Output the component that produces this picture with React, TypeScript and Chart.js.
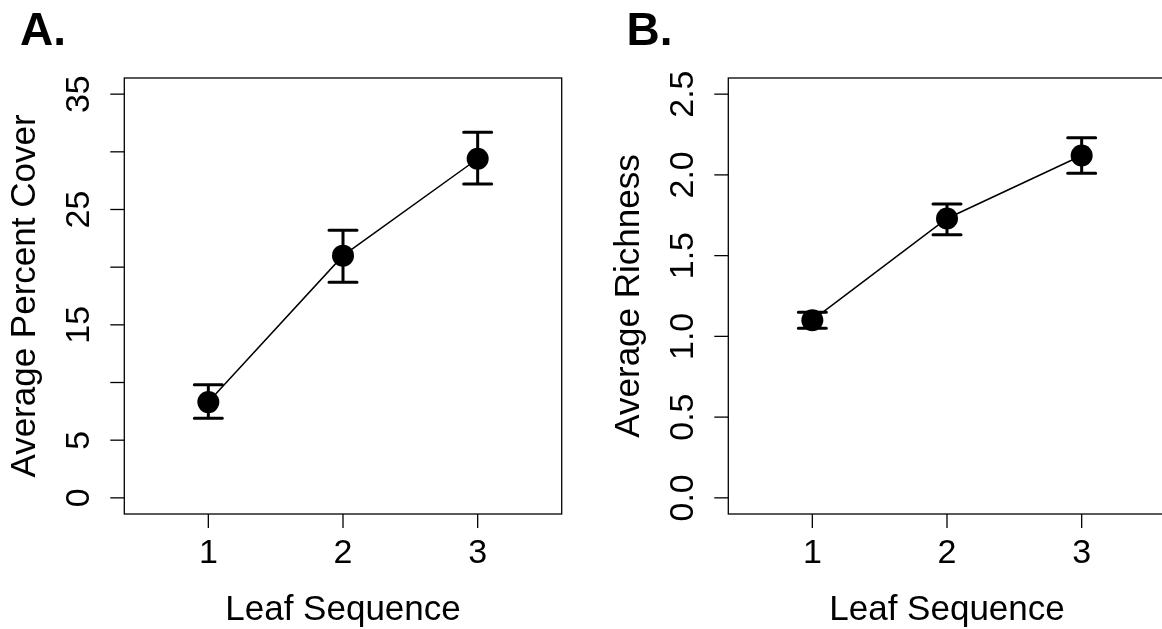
import React, { useEffect, useRef } from "react";
import { Chart, registerables } from "chart.js";

Chart.register(...registerables);

// ---- data ----
const leafSequence = [1, 2, 3];
const xTickLabels = ["1", "2", "3"];

const coverMean = [8.3, 21.0, 29.4];
const coverUpper = [9.8, 23.2, 31.7];
const coverLower = [6.9, 18.7, 27.2];
const coverTicks = [0, 5, 10, 15, 20, 25, 30, 35];
const coverTickLabels = ["0", "5", "", "15", "", "25", "", "35"];

const richMean = [1.1, 1.73, 2.12];
const richUpper = [1.15, 1.82, 2.23];
const richLower = [1.05, 1.63, 2.01];
const richTicks = [0, 0.5, 1.0, 1.5, 2.0, 2.5];
const richTickLabels = ["0.0", "0.5", "1.0", "1.5", "2.0", "2.5"];

const FONT = '"Liberation Sans", Arial, Helvetica, sans-serif';

type PanelSpec = {
  letter: string;
  letterX: number;
  yTitle: string;
  mean: number[];
  upper: number[];
  lower: number[];
  yTicks: number[];
  yTickLabels: string[];
  yMin: number;
  yMax: number;
  padding: { left: number; right: number; top: number; bottom: number };
};

function makeConfig(p: PanelSpec): any {
  const rPlugin = {
    id: "rstyle",
    beforeDatasetsDraw(chart: any) {
      const ctx = chart.ctx;
      const xs = chart.scales.x;
      const ys = chart.scales.y;
      ctx.save();
      ctx.strokeStyle = "#000";
      ctx.lineWidth = 3;
      ctx.lineCap = "round";
      leafSequence.forEach((c, i) => {
        const x = xs.getPixelForValue(c);
        const yu = ys.getPixelForValue(p.upper[i]);
        const yl = ys.getPixelForValue(p.lower[i]);
        ctx.beginPath();
        ctx.moveTo(x, yu);
        ctx.lineTo(x, yl);
        ctx.moveTo(x - 14, yu);
        ctx.lineTo(x + 14, yu);
        ctx.moveTo(x - 14, yl);
        ctx.lineTo(x + 14, yl);
        ctx.stroke();
      });
      ctx.restore();
    },
    afterDraw(chart: any) {
      const ctx = chart.ctx;
      const a = chart.chartArea;
      const xs = chart.scales.x;
      const ys = chart.scales.y;
      ctx.save();
      ctx.strokeStyle = "#000";
      ctx.fillStyle = "#000";
      ctx.lineWidth = 1.3;
      ctx.strokeRect(a.left, a.top, a.right - a.left, a.bottom - a.top);
      // x ticks
      ctx.font = `34px ${FONT}`;
      ctx.textAlign = "center";
      ctx.textBaseline = "alphabetic";
      leafSequence.forEach((c, i) => {
        const x = xs.getPixelForValue(c);
        ctx.beginPath();
        ctx.moveTo(x, a.bottom);
        ctx.lineTo(x, a.bottom + 14);
        ctx.stroke();
        ctx.fillText(xTickLabels[i], x, a.bottom + 49);
      });
      // y ticks
      p.yTicks.forEach((v, i) => {
        const y = ys.getPixelForValue(v);
        ctx.beginPath();
        ctx.moveTo(a.left, y);
        ctx.lineTo(a.left - 14, y);
        ctx.stroke();
        const lbl = p.yTickLabels[i];
        if (lbl) {
          ctx.save();
          ctx.translate(a.left - 35, y);
          ctx.rotate(-Math.PI / 2);
          ctx.fillText(lbl, 0, 0);
          ctx.restore();
        }
      });
      // titles
      ctx.font = `35px ${FONT}`;
      ctx.fillText("Leaf Sequence", (a.left + a.right) / 2, a.bottom + 106);
      ctx.save();
      ctx.translate(a.left - 89, (a.top + a.bottom) / 2);
      ctx.rotate(-Math.PI / 2);
      ctx.fillText(p.yTitle, 0, 0);
      ctx.restore();
      // panel letter
      ctx.font = `bold 46px ${FONT}`;
      ctx.textAlign = "left";
      ctx.fillText(p.letter, p.letterX, 45);
      ctx.restore();
    },
  };

  return {
    type: "line",
    data: {
      datasets: [
        {
          data: leafSequence.map((c, i) => ({ x: c, y: p.mean[i] })),
          borderColor: "#000",
          borderWidth: 1.5,
          pointRadius: 11,
          pointBackgroundColor: "#000",
          pointBorderColor: "#000",
          pointBorderWidth: 0,
          tension: 0,
          fill: false,
        },
      ],
    },
    options: {
      animation: false,
      responsive: false,
      devicePixelRatio: 1,
      layout: { padding: p.padding },
      plugins: { legend: { display: false }, tooltip: { enabled: false } },
      scales: {
        x: { type: "linear", min: 0.376, max: 3.624, display: false },
        y: { type: "linear", min: p.yMin, max: p.yMax, display: false },
      },
    },
    plugins: [rPlugin],
  };
}

function Panel({ spec, left, width }: { spec: PanelSpec; left: number; width: number }) {
  const ref = useRef<HTMLCanvasElement | null>(null);
  useEffect(() => {
    if (!ref.current) return;
    const chart = new Chart(ref.current, makeConfig(spec));
    return () => chart.destroy();
  }, []);
  return (
    <canvas
      ref={ref}
      width={width}
      height={629}
      style={{ position: "absolute", left, top: 0, width, height: 629 }}
    />
  );
}

const panelA: PanelSpec = {
  letter: "A.",
  letterX: 20,
  yTitle: "Average Percent Cover",
  mean: coverMean,
  upper: coverUpper,
  lower: coverLower,
  yTicks: coverTicks,
  yTickLabels: coverTickLabels,
  yMin: -1.4,
  yMax: 36.4,
  padding: { left: 124.3, right: 581 - 561.7, top: 78, bottom: 629 - 514 },
};

const panelB: PanelSpec = {
  letter: "B.",
  letterX: 45.5,
  yTitle: "Average Richness",
  mean: richMean,
  upper: richUpper,
  lower: richLower,
  yTicks: richTicks,
  yTickLabels: richTickLabels,
  yMin: -0.1,
  yMax: 2.6,
  padding: { left: 147.3, right: 600 - 584.7, top: 78, bottom: 629 - 514 },
};

export default function App() {
  useEffect(() => {
    document.body.style.margin = "0";
  }, []);
  return (
    <div
      style={{
        position: "absolute",
        left: 0,
        top: 0,
        width: 1162,
        height: 629,
        overflow: "hidden",
        background: "#fff",
      }}
    >
      <Panel spec={panelA} left={0} width={581} />
      <Panel spec={panelB} left={581} width={600} />
    </div>
  );
}
